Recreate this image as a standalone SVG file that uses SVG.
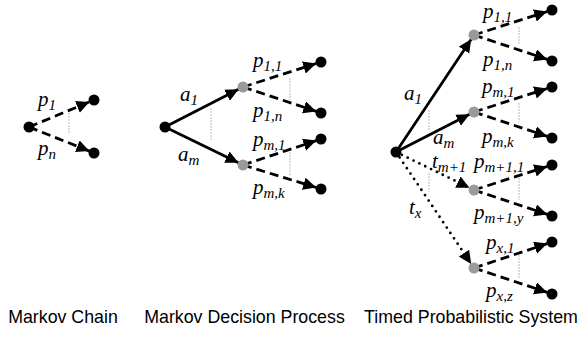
<svg xmlns="http://www.w3.org/2000/svg" width="583" height="337" viewBox="0 0 583 337">
<style>
.solid{stroke:#000;stroke-width:2.8;fill:none}
.dash{stroke:#000;stroke-width:2.8;fill:none;stroke-dasharray:9 5}
.dot{stroke:#000;stroke-width:2.8;fill:none;stroke-dasharray:0 6.5;stroke-linecap:round}
.guide{stroke:#b8b8b8;stroke-width:1;stroke-dasharray:2 1;fill:none}
.bn{fill:#000}
.gn{fill:#9a9a9a}
.m{font-family:"Liberation Serif","Times New Roman",serif;font-style:italic;font-size:21px;fill:#000}
.s{font-size:15px}
.cap{font-family:"Liberation Sans",Arial,sans-serif;font-size:17.8px;fill:#000;text-anchor:middle}
</style>
<defs>
<marker id="ah" markerUnits="userSpaceOnUse" markerWidth="14" markerHeight="13" refX="13" refY="6.25" orient="auto">
<path d="M0,0 L13,6.25 L0,12.5 z" fill="#000"/>
</marker>
</defs>
<g id="connectors">
<line class="dash" x1="29" y1="127" x2="89.4" y2="101.9" marker-end="url(#ah)"/>
<line class="dash" x1="29" y1="127" x2="89.4" y2="151.1" marker-end="url(#ah)"/>
<line class="solid" x1="165" y1="127" x2="238.6" y2="89.3" marker-end="url(#ah)"/>
<line class="solid" x1="165" y1="127" x2="238.5" y2="162.8" marker-end="url(#ah)"/>
<line class="dash" x1="243" y1="87" x2="316.2" y2="63.5" marker-end="url(#ah)"/>
<line class="dash" x1="243" y1="87" x2="316.3" y2="111.4" marker-end="url(#ah)"/>
<line class="dash" x1="243" y1="165" x2="316.3" y2="140.6" marker-end="url(#ah)"/>
<line class="dash" x1="243" y1="165" x2="316.2" y2="187.5" marker-end="url(#ah)"/>
<line class="solid" x1="396" y1="152" x2="471.2" y2="39.2" marker-end="url(#ah)"/>
<line class="solid" x1="396" y1="152" x2="469.6" y2="114.3" marker-end="url(#ah)"/>
<line class="dot" x1="396" y1="152" x2="469.5" y2="187.8" marker-end="url(#ah)"/>
<line class="dot" x1="396" y1="152" x2="471.2" y2="263.9" marker-end="url(#ah)"/>
<line class="dash" x1="474" y1="35" x2="547.2" y2="11.5" marker-end="url(#ah)"/>
<line class="dash" x1="474" y1="35" x2="547.3" y2="59.4" marker-end="url(#ah)"/>
<line class="dash" x1="474" y1="112" x2="547.2" y2="88.5" marker-end="url(#ah)"/>
<line class="dash" x1="474" y1="112" x2="547.3" y2="136.4" marker-end="url(#ah)"/>
<line class="dash" x1="474" y1="190" x2="547.2" y2="166.5" marker-end="url(#ah)"/>
<line class="dash" x1="474" y1="190" x2="547.3" y2="214.4" marker-end="url(#ah)"/>
<line class="dash" x1="474" y1="268" x2="547.3" y2="243.6" marker-end="url(#ah)"/>
<line class="dash" x1="474" y1="268" x2="547.3" y2="292.4" marker-end="url(#ah)"/>
<line class="guide" x1="69" y1="113" x2="69" y2="133"/>
<line class="guide" x1="211" y1="108" x2="211" y2="140"/>
<line class="guide" x1="290" y1="78" x2="290" y2="100"/>
<line class="guide" x1="290" y1="152" x2="290" y2="175"/>
<line class="guide" x1="429" y1="110" x2="429" y2="130"/>
<line class="guide" x1="429" y1="173" x2="429" y2="192"/>
<line class="guide" x1="519" y1="27" x2="519" y2="45"/>
<line class="guide" x1="519" y1="103" x2="519" y2="122"/>
<line class="guide" x1="519" y1="178" x2="519" y2="200"/>
<line class="guide" x1="519" y1="255" x2="519" y2="279"/>
</g>
<g id="mc">
<circle class="bn" cx="29" cy="127" r="5.5"/>
<circle class="bn" cx="94" cy="100" r="5.5"/>
<circle class="bn" cx="94" cy="153" r="5.5"/>
<text class="m" x="38" y="106">p<tspan class="s" dy="4">1</tspan></text>
<text class="m" x="38" y="155">p<tspan class="s" dy="4">n</tspan></text>
</g>
<g id="mdp">
<circle class="bn" cx="165" cy="127" r="5.5"/>
<circle class="gn" cx="243" cy="87" r="5.5"/>
<circle class="gn" cx="243" cy="165" r="5.5"/>
<circle class="bn" cx="321" cy="62" r="5.5"/>
<circle class="bn" cx="321" cy="113" r="5.5"/>
<circle class="bn" cx="321" cy="139" r="5.5"/>
<circle class="bn" cx="321" cy="189" r="5.5"/>
<text class="m" x="180" y="101">a<tspan class="s" dy="4">1</tspan></text>
<text class="m" x="178" y="161">a<tspan class="s" dy="4">m</tspan></text>
<text class="m" x="253" y="67">p<tspan class="s" dy="4">1,1</tspan></text>
<text class="m" x="253" y="117">p<tspan class="s" dy="4">1,n</tspan></text>
<text class="m" x="253" y="146">p<tspan class="s" dy="4">m,1</tspan></text>
<text class="m" x="253" y="194">p<tspan class="s" dy="4">m,k</tspan></text>
</g>
<g id="tps">
<circle class="bn" cx="396" cy="152" r="5.5"/>
<circle class="gn" cx="474" cy="35" r="5.5"/>
<circle class="gn" cx="474" cy="112" r="5.5"/>
<circle class="gn" cx="474" cy="190" r="5.5"/>
<circle class="gn" cx="474" cy="268" r="5.5"/>
<circle class="bn" cx="552" cy="10" r="5.5"/>
<circle class="bn" cx="552" cy="61" r="5.5"/>
<circle class="bn" cx="552" cy="87" r="5.5"/>
<circle class="bn" cx="552" cy="138" r="5.5"/>
<circle class="bn" cx="552" cy="165" r="5.5"/>
<circle class="bn" cx="552" cy="216" r="5.5"/>
<circle class="bn" cx="552" cy="242" r="5.5"/>
<circle class="bn" cx="552" cy="294" r="5.5"/>
<text class="m" x="404" y="100">a<tspan class="s" dy="4">1</tspan></text>
<text class="m" x="433" y="144">a<tspan class="s" dy="4">m</tspan></text>
<text class="m" x="432" y="168">t<tspan class="s" dy="4">m+1</tspan></text>
<text class="m" x="409" y="214">t<tspan class="s" dy="4">x</tspan></text>
<text class="m" x="483" y="18">p<tspan class="s" dy="4">1,1</tspan></text>
<text class="m" x="483" y="66">p<tspan class="s" dy="4">1,n</tspan></text>
<text class="m" x="482" y="93">p<tspan class="s" dy="4">m,1</tspan></text>
<text class="m" x="482" y="143">p<tspan class="s" dy="4">m,k</tspan></text>
<text class="m" x="474" y="168">p<tspan class="s" dy="4">m+1,1</tspan></text>
<text class="m" x="474" y="219">p<tspan class="s" dy="4">m+1,y</tspan></text>
<text class="m" x="486" y="249">p<tspan class="s" dy="4">x,1</tspan></text>
<text class="m" x="486" y="297">p<tspan class="s" dy="4">x,z</tspan></text>
</g>
<g id="captions">
<text class="cap" x="63" y="323">Markov Chain</text>
<text class="cap" x="244.5" y="323">Markov Decision Process</text>
<text class="cap" x="471" y="323">Timed Probabilistic System</text>
</g>
</svg>
